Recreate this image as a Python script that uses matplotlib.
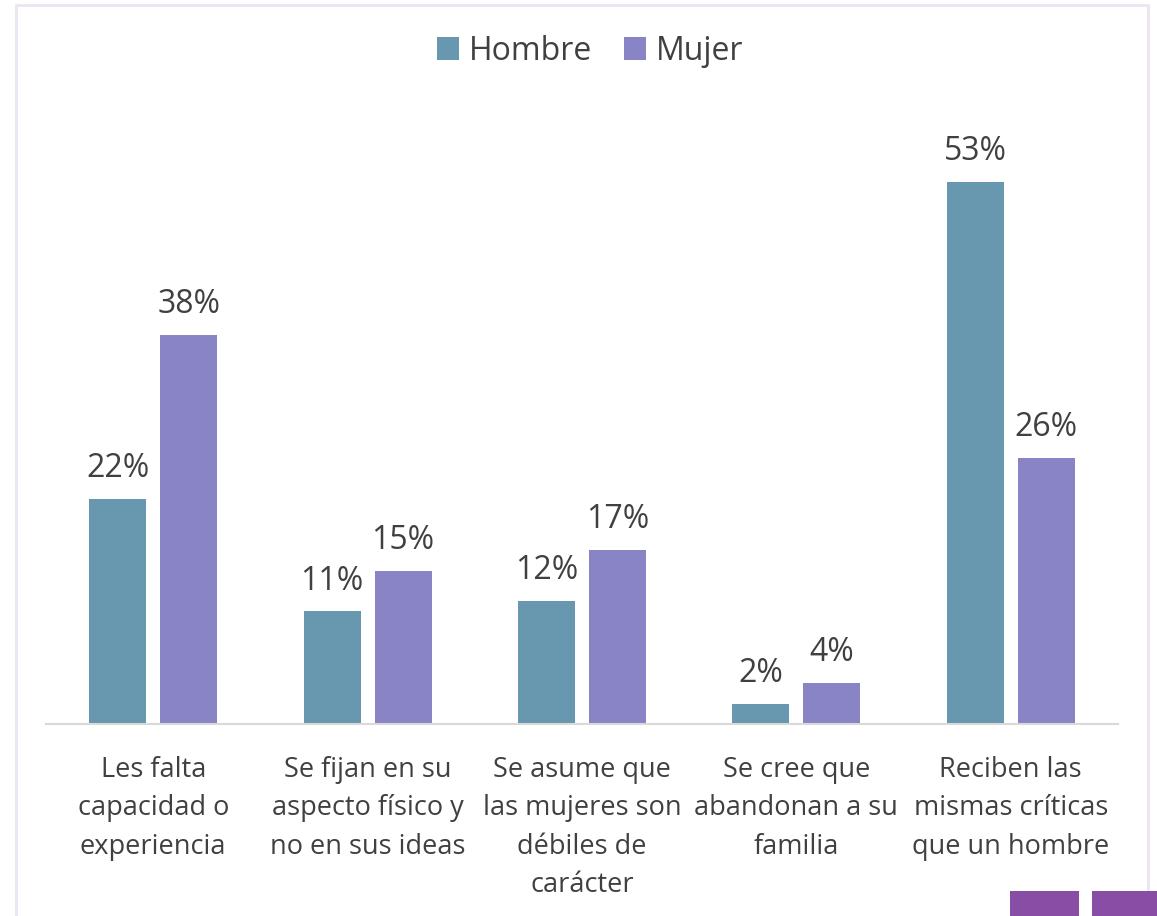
import matplotlib
matplotlib.use("Agg")
import matplotlib.pyplot as plt
from matplotlib.patches import Rectangle
import numpy as np

categories = ["Les falta\ncapacidad o\nexperiencia",
              "Se fijan en su\naspecto físico y\nno en sus ideas",
              "Se asume que\nlas mujeres son\ndébiles de\ncarácter",
              "Se cree que\nabandonan a su\nfamilia",
              "Reciben las\nmismas críticas\nque un hombre"]
hombre = [22, 11, 12, 2, 53]
mujer = [38, 15, 17, 4, 26]
series_names = ["Hombre", "Mujer"]

c_h = "#6897b0"
c_m = "#8884c6"
txt = "#404040"

plt.rcParams['font.family'] = ['Open Sans', 'DejaVu Sans']

W, H = 1157, 916
fig = plt.figure(figsize=(W/100, H/100), dpi=100)

# border
fig.patches.append(Rectangle((16/W, -0.02), (1148-16)/W, (916-5)/H + 0.02, transform=fig.transFigure,
                             fill=False, edgecolor="#ece4f2", linewidth=2))
# decorative squares
for x0, x1 in [(1010, 1079), (1092, 1157)]:
    fig.patches.append(Rectangle((x0/W, 0), (x1-x0)/W, 25/H, transform=fig.transFigure,
                                 facecolor="#884ea5", edgecolor="none"))

left, right, bottom = 46, 1118, 724
ymax = 60
top = bottom - ymax*10.23
ax = fig.add_axes([left/W, 1-bottom/H, (right-left)/W, (bottom-top)/H])

x = np.arange(len(categories))
bw = 0.266
gap = 0.065
off = (bw + gap)/2
b1 = ax.bar(x - off, hombre, bw, color=c_h, label=series_names[0])
b2 = ax.bar(x + off, mujer, bw, color=c_m, label=series_names[1])
for bars, vals in [(b1, hombre), (b2, mujer)]:
    for b, v in zip(bars, vals):
        ax.annotate(f"{v}%", (b.get_x()+b.get_width()/2, v), xytext=(0, 10),
                    textcoords="offset points", ha="center", va="bottom",
                    fontsize=23, color=txt)

ax.set_xlim(-0.5, len(categories)-0.5)
ax.set_ylim(0, ymax)
ax.set_yticks([])
ax.set_xticks(x)
ax.set_xticklabels(categories, fontsize=19.5, color=txt, linespacing=1.5)
ax.tick_params(axis='x', length=0, pad=23)
for s in ["top", "right", "left"]:
    ax.spines[s].set_visible(False)
ax.spines["bottom"].set_color("#d9d9d9")
ax.spines["bottom"].set_linewidth(1.5)

fig.legend(loc="center", bbox_to_anchor=(590/W, 1-51/H), ncol=2, frameon=False,
           fontsize=23, handlelength=0.7, handleheight=0.7, handletextpad=0.3,
           columnspacing=1.0, labelcolor=txt)

fig.savefig("out.png", dpi=100)
